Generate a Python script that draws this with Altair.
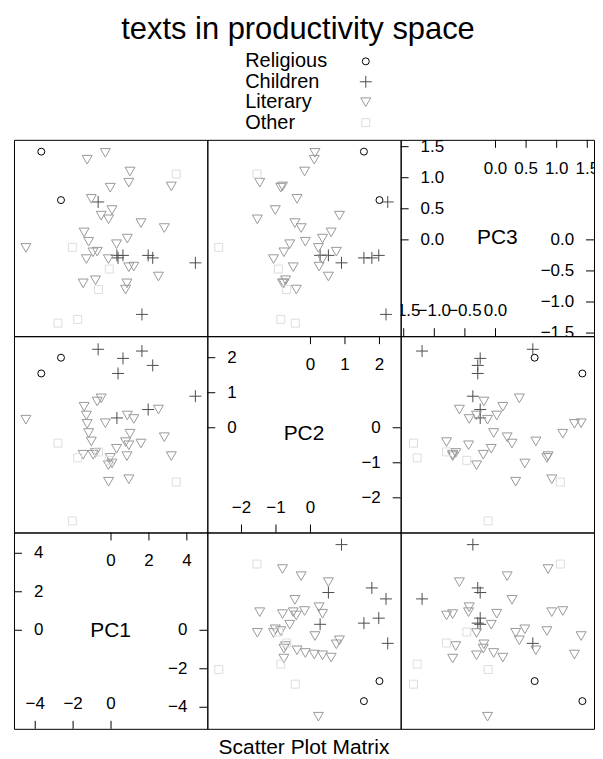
import altair as alt
import pandas as pd

FONT = "Liberation Sans"
GROUPS = ["Religious", "Children", "Literary", "Other"]

# --- data -----------------------------------------------------------------
REL_PC1 = [-2.64, -3.68]
REL_PC2 = [2.00, 1.55]
REL_PC3 = [0.64, 1.42]

CHI_PC1 = [-0.68, 0.63, 1.63, 2.20, 0.37, 4.45, 1.96, 0.31]
CHI_PC2 = [2.24, 1.98, 2.19, 1.78, 1.55, 0.90, 0.52, 0.28]
CHI_PC3 = [0.61, -0.25, -1.20, -0.29, -0.29, -0.37, -0.25, -0.25]

LIT_PC1 = [-4.49, 3.18, 2.81, 2.50, 1.58, 1.20, 1.00, 0.94, 0.94, 0.86,
           0.84, 0.77, 0.29, 0.05, -0.04, -0.13, -0.14, -0.30, -0.52, -0.73,
           -0.82, -0.95, -1.04, -1.18, -1.26, -1.30, -1.42, -1.47]
LIT_PC2 = [0.23, -0.81, -0.27, 0.52, -0.45, 0.25, -0.17, -1.47, -0.50, 0.35,
           -0.81, -0.41, -0.60, -1.02, -0.86, -1.54, -1.07, 0.13, 0.84, 0.75,
           -0.72, -0.77, -0.39, -0.15, 0.11, 0.35, 0.60, -0.77]
LIT_PC3 = [-0.13, 0.86, 0.19, -0.59, 0.27, -0.43, 1.10, 0.92, -0.44, 0.02,
           -0.70, -0.80, -0.07, 0.48, 0.84, 0.33, -0.31, 1.40, 0.39, -0.19,
           -0.65, -0.20, 0.66, -0.03, 1.29, -0.31, 0.12, -0.70]

OTH_PC1 = [3.44, -2.04, -0.09, -0.66, -1.76, -2.80]
OTH_PC2 = [-1.55, -2.66, -0.93, -0.69, -0.86, -0.44]
OTH_PC3 = [1.06, -0.12, -0.47, -0.80, -1.28, -1.34]

DOMAINS = {"PC1": [-5.12, 5.08], "PC2": [-2.99, 2.615], "PC3": [-1.55, 1.61]}

PC1_TICKS = [-4, -2, 0, 2, 4]
PC1_LABELS = ["\u22124", "\u22122", "0", "2", "4"]
PC2_TICKS = [-2, -1, 0, 1, 2]
PC2_LABELS = ["\u22122", "\u22121", "0", "1", "2"]
PC3_TICKS = [-1.5, -1.0, -0.5, 0.0, 0.5, 1.0, 1.5]
PC3_LABELS = ["\u22121.5", "\u22121.0", "\u22120.5", "0.0", "0.5", "1.0", "1.5"]
TICKS = {"PC1": (PC1_TICKS, PC1_LABELS), "PC2": (PC2_TICKS, PC2_LABELS),
         "PC3": (PC3_TICKS, PC3_LABELS)}

# --- build table -----------------------------------------------------------
parts = []
for g, a, b, c in [("Religious", REL_PC1, REL_PC2, REL_PC3),
                   ("Children", CHI_PC1, CHI_PC2, CHI_PC3),
                   ("Literary", LIT_PC1, LIT_PC2, LIT_PC3),
                   ("Other", OTH_PC1, OTH_PC2, OTH_PC3)]:
    parts.append(pd.DataFrame({"group": g, "PC1": a, "PC2": b, "PC3": c}))
df = pd.concat(parts, ignore_index=True)

W = 194
H = 197
TL = 8
PLUS = "M-1,0L1,0M0,-1L0,1"
STYLE = {"Religious": ("circle", "#000000", 49),
         "Children": (PLUS, "#4C4C4C", 144),
         "Literary": ("triangle-down", "#999999", 100),
         "Other": ("square", "#DDDDDD", 64)}


def sc(v):
    return alt.Scale(domain=DOMAINS[v], nice=False, zero=False)


def scatter(xv, yv):
    layers = []
    for g in GROUPS:
        shp, col, sz = STYLE[g]
        layers.append(
            alt.Chart(df).transform_filter(alt.datum.group == g).mark_point(
                shape=shp, color=col, size=sz, filled=False, strokeWidth=1, opacity=1
            ).encode(
                x=alt.X(f"{xv}:Q", scale=sc(xv), axis=None),
                y=alt.Y(f"{yv}:Q", scale=sc(yv), axis=None),
            ))
    return alt.layer(*layers).properties(width=W, height=H)


def diag(v):
    ticks, labels = TICKS[v]
    tdf = pd.DataFrame({"t": ticks, "lab": labels})
    mid = sorted(ticks)[len(ticks) // 2]
    lo = tdf[tdf.t <= mid]
    hi = tdf[tdf.t >= mid]
    s = sc(v)
    FS = 17
    xq = alt.X("t:Q", scale=s, axis=None)
    yq = alt.Y("t:Q", scale=s, axis=None)
    rule = dict(color="black", strokeWidth=1)
    txt = dict(font=FONT, fontSize=FS, color="black", clip=True)
    layers = [
        alt.Chart(hi).mark_rule(**rule).encode(y=yq, x=alt.value(0), x2=alt.value(TL)),
        alt.Chart(hi).mark_text(align="left", baseline="middle", **txt).encode(
            y=yq, x=alt.value(20), text="lab:N"),
        alt.Chart(hi).mark_rule(**rule).encode(x=xq, y=alt.value(0), y2=alt.value(TL)),
        alt.Chart(hi).mark_text(align="center", baseline="middle", **txt).encode(
            x=xq, y=alt.value(29), text="lab:N"),
        alt.Chart(lo).mark_rule(**rule).encode(x=xq, y=alt.value(H - TL), y2=alt.value(H)),
        alt.Chart(lo).mark_text(align="center", baseline="middle", **txt).encode(
            x=xq, y=alt.value(H - 25), text="lab:N"),
        alt.Chart(lo).mark_rule(**rule).encode(y=yq, x=alt.value(W - TL), x2=alt.value(W)),
        alt.Chart(lo).mark_text(align="right", baseline="middle", **txt).encode(
            y=yq, x=alt.value(W - 20), text="lab:N"),
        alt.Chart(pd.DataFrame({"name": [v]})).mark_text(
            align="center", baseline="middle", font=FONT, fontSize=21, color="black").encode(
            text="name:N", x=alt.value(W / 2), y=alt.value(H / 2)),
    ]
    return alt.layer(*layers).properties(width=W, height=H)


panels = [
    scatter("PC1", "PC3"), scatter("PC2", "PC3"), diag("PC3"),
    scatter("PC1", "PC2"), diag("PC2"), scatter("PC3", "PC2"),
    diag("PC1"), scatter("PC2", "PC1"), scatter("PC3", "PC1"),
]
matrix = alt.concat(*panels, columns=3, spacing=0, bounds="flush", title=alt.TitleParams(
    "Scatter Plot Matrix", orient="bottom", anchor="middle", fontSize=21,
    font=FONT, fontWeight="normal", color="black", offset=7))

# --- key (labels left, symbols right) -------------------------------------
leg_df = pd.DataFrame({"group": GROUPS})
leg_y = alt.Y("group:N", scale=alt.Scale(domain=GROUPS, padding=0.5), axis=None)
key_layers = [alt.Chart(leg_df).mark_text(
    align="left", baseline="middle", font=FONT, fontSize=20, color="black").encode(
    y=leg_y, x=alt.value(232), text="group:N")]
for g in GROUPS:
    shp, col, sz = STYLE[g]
    key_layers.append(
        alt.Chart(leg_df).transform_filter(alt.datum.group == g).mark_point(
            shape=shp, color=col, size=sz, filled=False, strokeWidth=1, opacity=1
        ).encode(y=leg_y, x=alt.value(353)))
key = alt.layer(*key_layers).properties(
    width=3 * W, height=82, view=alt.ViewBackground(strokeOpacity=0))

chart = alt.vconcat(key, matrix, spacing=6, title=alt.TitleParams(
    "texts in productivity space", anchor="middle", fontSize=31, font=FONT,
    fontWeight="normal", color="black", dx=-6, offset=5)).properties(
    padding={"left": 5, "top": 5, "right": 0, "bottom": 0}
).configure(font=FONT).configure_view(stroke="black", strokeWidth=1)

chart.save("out.html", embed_options={"renderer": "svg", "actions": False})
